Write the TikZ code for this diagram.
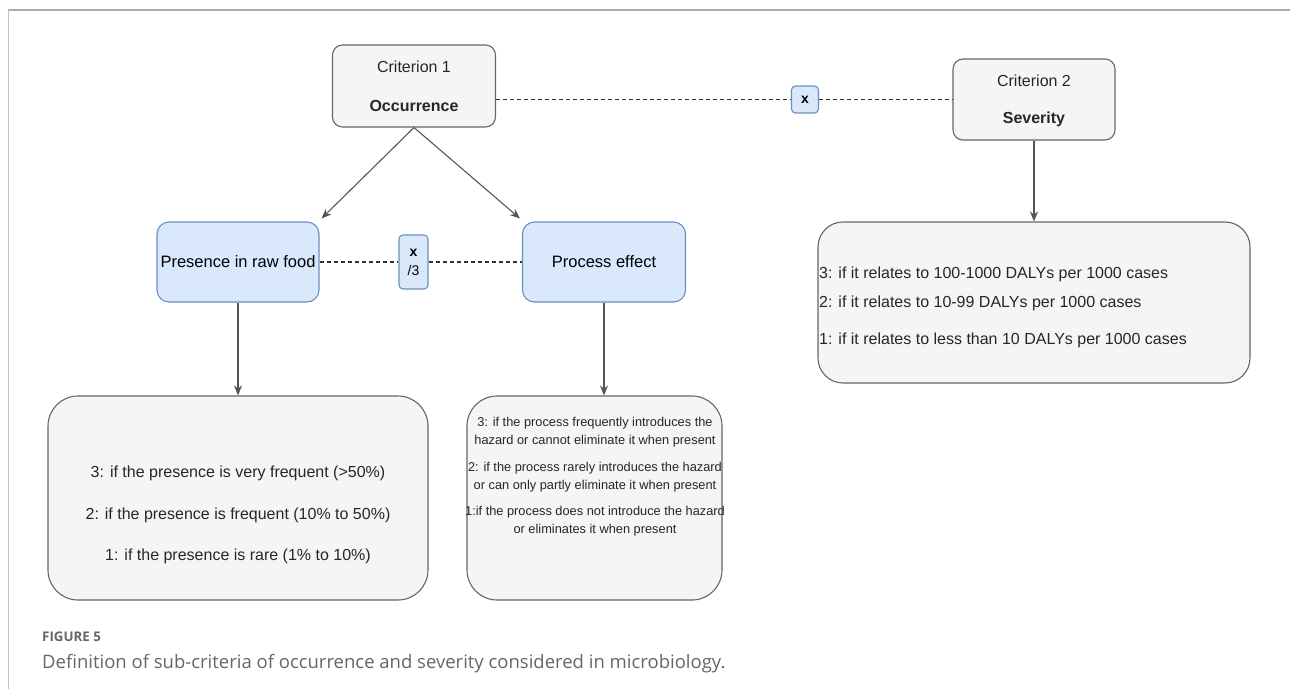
\documentclass[tikz,border=0pt]{standalone}
\usepackage{fontspec}
\setmainfont{Liberation Sans}
\newfontfamily\capfont{Open Sans}
\usetikzlibrary{arrows.meta,calc}

\definecolor{boxfill}{HTML}{F5F5F5}
\definecolor{boxline}{HTML}{666666}
\definecolor{bluefill}{HTML}{DAE8FC}
\definecolor{blueline}{HTML}{6C8EBF}
\definecolor{arrowcol}{HTML}{555555}
\definecolor{dashcol}{HTML}{333333}
\definecolor{captxt}{HTML}{666666}
\definecolor{framecol}{HTML}{AAAAAA}

\tikzset{
  graybox/.style={draw=boxline, fill=boxfill, line width=1.1pt, inner sep=0pt},
  bluebox/.style={draw=blueline, fill=bluefill, line width=1.1pt, inner sep=0pt,
                  rounded corners=12pt},
  opbox/.style={draw=blueline, fill=bluefill, line width=1.1pt, inner sep=0pt,
                rounded corners=4pt, align=center, font=\fontsize{14}{20}\selectfont\bfseries},
  txt/.style={inner sep=0pt, text=black!85},
  arr/.style={draw=arrowcol, line width=1.1pt, -{Stealth[length=10pt,width=8pt]}},
  dline/.style={draw=dashcol, line width=1.4pt, dash pattern=on 4pt off 3pt},
}

\begin{document}
\begin{tikzpicture}[x=1pt, y=-1pt]
  \useasboundingbox (0,0) rectangle (1290,689);

  % outer frame lines
  \draw[framecol, line width=1.2pt] (8,10) -- (1290,10);
  \draw[framecol!70, line width=0.8pt] (8,10) -- (8,689);

  % top level criteria
  \node[graybox, rounded corners=10pt, minimum width=163pt, minimum height=82pt] (c1) at (414,86) {};
  \node[txt, font=\fontsize{16}{20}\selectfont] (c1a) at (414,67) {Criterion 1};
  \node[txt, font=\fontsize{16}{20}\selectfont\bfseries] (c1b) at (414,106) {Occurrence};

  \node[graybox, rounded corners=10pt, minimum width=162pt, minimum height=81pt] (c2) at (1034,99.5) {};
  \node[txt, font=\fontsize{16}{20}\selectfont] (c2a) at (1034,81) {Criterion 2};
  \node[txt, font=\fontsize{16}{20}\selectfont\bfseries] (c2b) at (1034,119) {Severity};

  % sub-criteria
  \node[bluebox, minimum width=162pt, minimum height=80pt,
        font=\fontsize{16.5}{20}\selectfont] (p1) at (238,262) {Presence in raw food};
  \node[bluebox, minimum width=163pt, minimum height=80pt,
        font=\fontsize{16.5}{20}\selectfont] (p2) at (604,262) {Process effect};

  % operators
  \node[opbox, minimum width=27pt, minimum height=27pt] (xa) at (805,99.5) {x};
  \node[opbox, minimum width=29pt, minimum height=54pt] (xb) at (413.5,262)
        {x\\[-1pt]\mdseries/3};

  % score boxes
  \node[graybox, rounded corners=30pt, minimum width=380pt, minimum height=204pt] (b1) at (238,498) {};
  \node[graybox, rounded corners=30pt, minimum width=255pt, minimum height=204pt] (b2) at (594.5,498) {};
  \node[graybox, rounded corners=25pt, minimum width=432pt, minimum height=161pt] (b3) at (1034,302.5) {};

  \node[txt, align=center, font=\fontsize{16}{41.5}\selectfont] (t1) at (238,515)
    {3: if the presence is very frequent (>50\%)\\
     2: if the presence is frequent (10\% to 50\%)\\
     1: if the presence is rare (1\% to 10\%)};

  \node[txt, align=center, font=\fontsize{12.8}{18}\selectfont] (t2) at (595,477)
    {3: if the process frequently introduces the\\
     hazard or cannot eliminate it when present\\[8.5pt]
     2: if the process rarely introduces the hazard\\
     or can only partly eliminate it when present\\[8.5pt]
     1:if the process does not introduce the hazard\\
     or eliminates it when present};

  \node[txt, anchor=west, font=\fontsize{16}{20}\selectfont] (s3) at (819,274)
    {3: if it relates to 100-1000 DALYs per 1000 cases};
  \node[txt, anchor=west, font=\fontsize{16}{20}\selectfont] (s2) at (819,303)
    {2: if it relates to 10-99 DALYs per 1000 cases};
  \node[txt, anchor=west, font=\fontsize{16}{20}\selectfont] (s1) at (819,340)
    {1: if it relates to less than 10 DALYs per 1000 cases};

  % dashed combination lines
  \draw[dline] (c1.east |- xa.center) -- (xa.west);
  \draw[dline] (xa.east) -- (c2.west |- xa.center);
  \draw[dline] (p1.east) -- (xb.west);
  \draw[dline] (xb.east) -- (p2.west);

  % arrows
  \draw[arr] (c1.south) -- ([shift={(2,-3)}]p1.north east);
  \draw[arr] (c1.south) -- ([shift={(-2,-3)}]p2.north west);
  \draw[arr] (c2.south) -- (b3.north);
  \draw[arr] (p1.south) -- (p1.south |- b1.north);
  \draw[arr] (p2.south) -- (p2.south |- b2.north);

  % caption
  \node[anchor=west, inner sep=0pt, text=captxt, font=\capfont\fontsize{13.3}{16}\selectfont\bfseries]
    (fig) at (42,637) {FIGURE 5};
  \node[anchor=west, inner sep=0pt, text=captxt, font=\capfont\fontsize{18.5}{22}\selectfont]
    (cap) at (42,664) {Definition of sub-criteria of occurrence and severity considered in microbiology.};
\end{tikzpicture}
\end{document}
